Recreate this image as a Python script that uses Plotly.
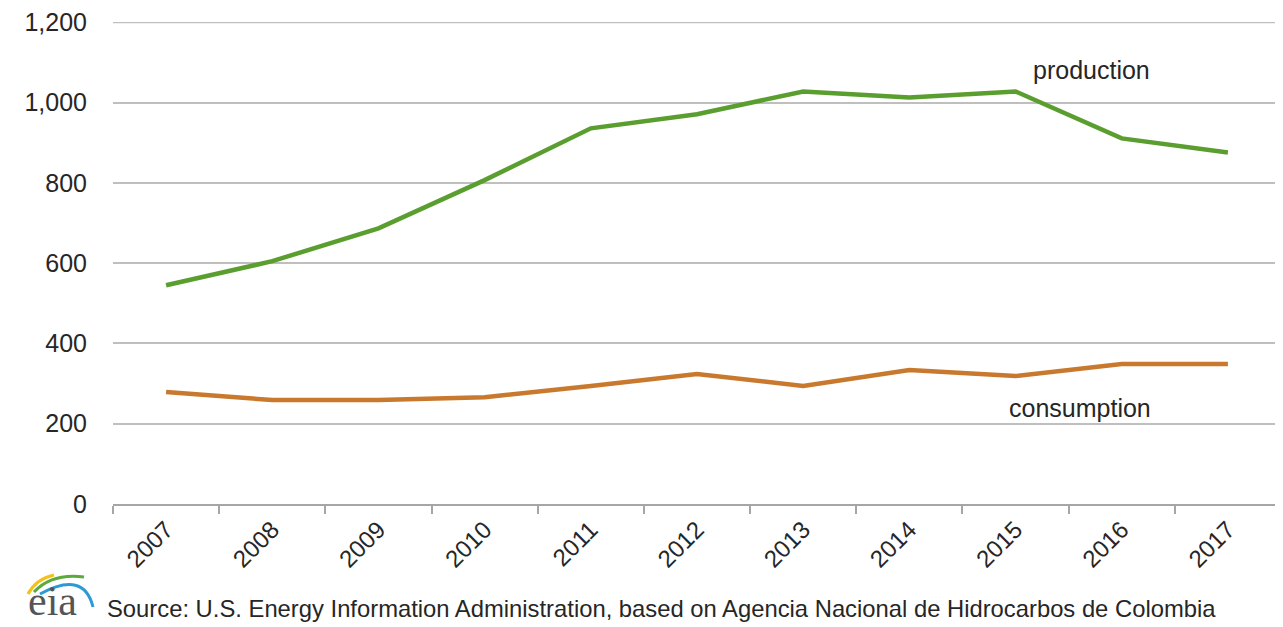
import plotly.graph_objects as go

years = ["2007", "2008", "2009", "2010", "2011", "2012", "2013", "2014", "2015", "2016", "2017"]
production = [545, 605, 687, 807, 936, 971, 1028, 1013, 1028, 911, 876]
consumption = [279, 259, 259, 266, 294, 324, 294, 334, 319, 349, 349]
y_ticks = [0, 200, 400, 600, 800, 1000, 1200]

# page has an 8px default body margin; figure is sized to fit inside window
OFF = 8
W, H = 1283 - OFF, 627 - OFF
PL, PR, PT, PB = 113, 1281, 22, 504          # plot area in window pixels
L, T = PL - OFF, PT - OFF
R = W - (PR - OFF)
B = H - (PB - OFF)
PW, PH = PR - PL, PB - PT

def px(x):
    return (x - PL) / PW

def py(y):
    return (PB - y) / PH

FONT = "Liberation Sans, Arial, sans-serif"
TXT = "#262626"
GRID = "#bfbfbf"

fig = go.Figure()
fig.add_trace(go.Scatter(x=years, y=production, mode="lines", name="production",
                         line=dict(color="#5a9e2f", width=4.5)))
fig.add_trace(go.Scatter(x=years, y=consumption, mode="lines", name="consumption",
                         line=dict(color="#c8792d", width=4.5)))

fig.update_layout(
    width=W, height=H,
    margin=dict(l=L, r=R, t=T, b=B, pad=0),
    paper_bgcolor="white", plot_bgcolor="white",
    showlegend=False,
    font=dict(family=FONT, size=24, color=TXT),
    xaxis=dict(type="category", range=[-0.5, 10.5], autorange=False, automargin=False,
               tickangle=-45, ticks="outside", tickson="boundaries",
               ticklen=8, tickwidth=2, tickcolor="#a6a6a6", showline=True, linecolor="#a6a6a6",
               linewidth=2, showgrid=False, tickfont=dict(size=24, color=TXT)),
    yaxis=dict(range=[0, 1201], autorange=False, automargin=False, tickvals=y_ticks,
               tickformat=",", showgrid=True,
               gridcolor=GRID, gridwidth=1.5, zeroline=False, showline=False,
               ticks="", ticklabelstandoff=25, tickfont=dict(size=25, color=TXT)),
)

# top gridline (plotly omits the one on the plot edge)
fig.add_shape(type="line", xref="paper", yref="y", x0=0, x1=1, y0=y_ticks[-1], y1=y_ticks[-1],
              line=dict(color=GRID, width=1.5), layer="below")

fig.add_annotation(x=px(1091), y=py(70), xref="paper", yref="paper", xanchor="center",
                   yanchor="middle", text="production",
                   showarrow=False, font=dict(size=25, color=TXT))
fig.add_annotation(x=px(1080), y=py(408), xref="paper", yref="paper", xanchor="center",
                   yanchor="middle", text="consumption",
                   showarrow=False, font=dict(size=25, color=TXT))
fig.add_annotation(x=px(105), y=py(608), xref="paper", yref="paper", xanchor="left",
                   yanchor="middle",
                   text="Source: U.S. Energy Information Administration, based on Agencia Nacional de Hidrocarbos de Colombia",
                   showarrow=False, font=dict(size=23.8, color=TXT))
# eia logo
fig.add_annotation(x=px(52), y=py(601), xref="paper", yref="paper", xanchor="center",
                   yanchor="middle", text="eia", showarrow=False,
                   font=dict(family="Liberation Serif, DejaVu Serif, serif", size=42, color="#555555"))

def arc(p0, c, p1, color, width):
    d = "M {},{} Q {},{} {},{}".format(px(p0[0]), py(p0[1]), px(c[0]), py(c[1]), px(p1[0]), py(p1[1]))
    fig.add_shape(type="path", path=d, xref="paper", yref="paper",
                  line=dict(color=color, width=width))

arc((28, 594), (36, 579), (54, 575), "#f2c21b", 3)
arc((34, 592), (52, 573), (84, 577), "#5aaa3c", 3)
arc((40, 594), (84, 570), (93, 607), "#2b9ad6", 3)

fig.write_html("out.html")
